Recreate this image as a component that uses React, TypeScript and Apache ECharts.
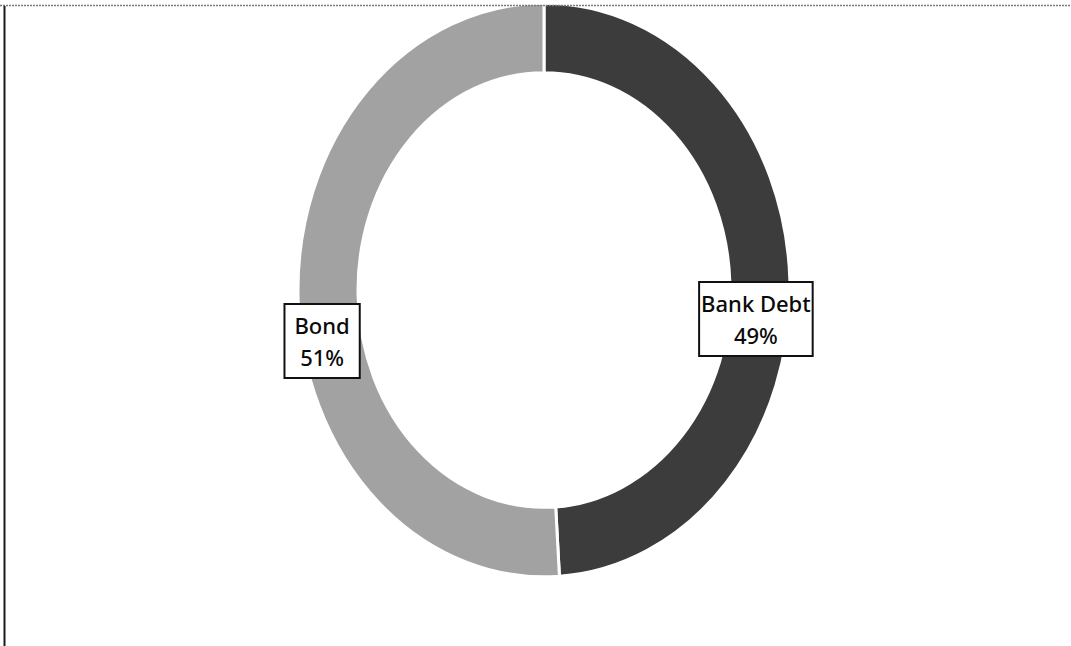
import React, { useEffect, useRef } from "react";
import * as echarts from "echarts";

const categories = ["Bank Debt", "Bond"];
const shares = [49, 51];
const colors = ["#3c3c3c", "#a2a2a2"];
const labelOffsets = [
  [-7, 36],
  [-3, 44],
];
const labelPads = [
  [4, 1],
  [4, 9],
];

const W = 1071;
const H = 646;
const CX = 544;
const CY = 290;
const R0 = 186;
const R1 = 246;
const SY = 1.167;

const data = categories.map((name, i) => ({ name, value: shares[i] }));

export default function App() {
  const ringRef = useRef<HTMLDivElement>(null);
  const labelRef = useRef<HTMLDivElement>(null);

  useEffect(() => {
    document.body.style.margin = "0";
    const ring = echarts.init(ringRef.current!, undefined, { renderer: "svg" });
    ring.setOption({
      animation: false,
      series: [
        {
          type: "pie",
          center: [CX, CY],
          radius: [R0, R1],
          startAngle: 90,
          clockwise: true,
          silent: true,
          label: { show: false },
          labelLine: { show: false },
          itemStyle: { borderColor: "#ffffff", borderWidth: 3 },
          data: data.map((d, i) => ({ ...d, itemStyle: { color: colors[i] } })),
        },
      ],
    });

    const lab = echarts.init(labelRef.current!, undefined, { renderer: "svg" });
    lab.setOption({
      animation: false,
      graphic: [
        {
          type: "line",
          shape: { x1: 0, y1: 5.5, x2: W, y2: 5.5 },
          style: { stroke: "#7a7a7a", lineWidth: 1.5, lineDash: [2, 1] },
          silent: true,
        },
        {
          type: "line",
          shape: { x1: 4.5, y1: 6, x2: 4.5, y2: H },
          style: { stroke: "#1a1a1a", lineWidth: 2 },
          silent: true,
        },
      ],
      series: [
        {
          type: "pie",
          center: [CX, CY],
          radius: [R0, R1],
          startAngle: 90,
          clockwise: true,
          silent: true,
          labelLine: { show: false },
          itemStyle: { color: "transparent" },
          data: data.map((d, i) => ({
            ...d,
            label: {
              show: true,
              position: "inside",
              offset: labelOffsets[i],
              formatter: "{b}\n{c}%",
              fontFamily: "Noto Sans",
              fontSize: 22,
              fontWeight: 500,
              lineHeight: 32,
              color: "#0a0a0a",
              backgroundColor: "#ffffff",
              borderColor: "#111111",
              borderWidth: 2,
              padding: labelPads[i],
              align: "center",
            },
          })),
        },
      ],
    });

    return () => {
      ring.dispose();
      lab.dispose();
    };
  }, []);

  return (
    <div style={{ position: "fixed", left: 0, top: 0, width: W, height: H, background: "#ffffff", overflow: "hidden" }}>
      <div
        ref={ringRef}
        style={{
          position: "absolute",
          left: 0,
          top: 0,
          width: W,
          height: H,
          transform: `scaleY(${SY})`,
          transformOrigin: `${CX}px ${CY}px`,
        }}
      />
      <div ref={labelRef} style={{ position: "absolute", left: 0, top: 0, width: W, height: H }} />
    </div>
  );
}
